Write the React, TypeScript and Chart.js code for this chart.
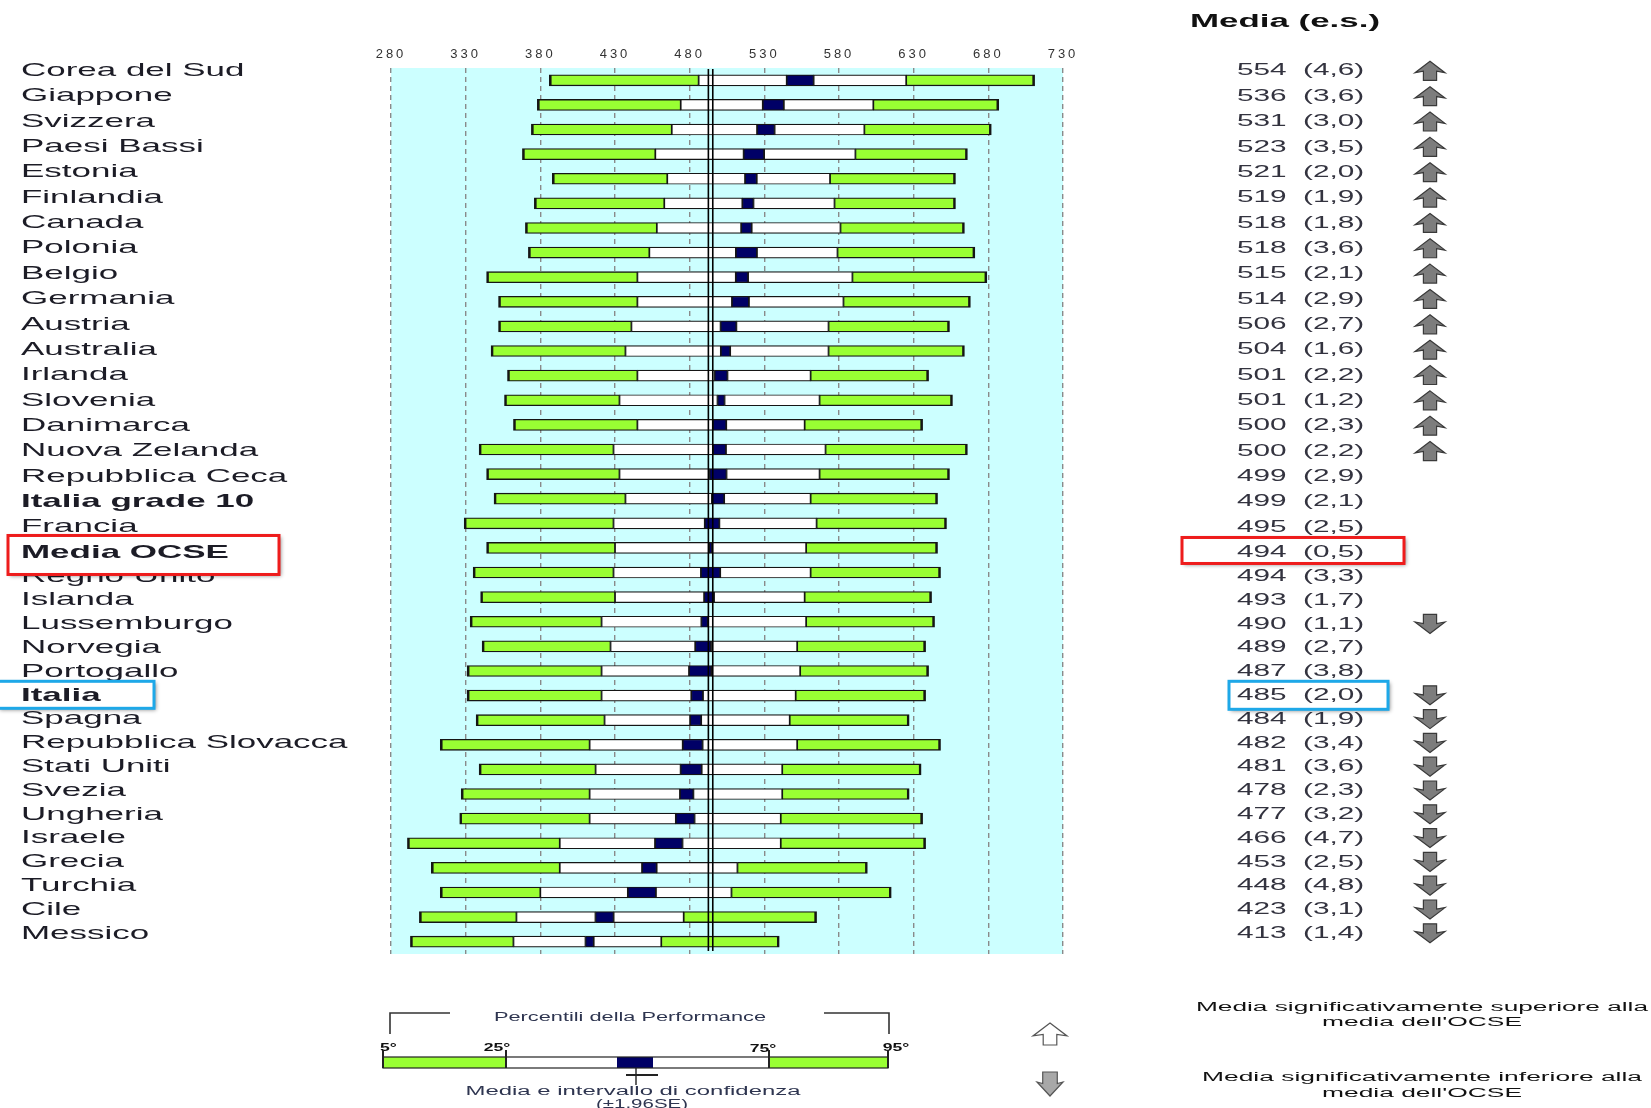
import React, { useEffect, useRef } from 'react';
import { Chart, registerables } from 'chart.js';

Chart.register(...registerables);

// ---------------- data ----------------
const countries = [
  'Corea del Sud', 'Giappone', 'Svizzera', 'Paesi Bassi', 'Estonia', 'Finlandia',
  'Canada', 'Polonia', 'Belgio', 'Germania', 'Austria', 'Australia', 'Irlanda',
  'Slovenia', 'Danimarca', 'Nuova Zelanda', 'Repubblica Ceca', 'Italia grade 10',
  'Francia', 'Media OCSE', 'Regno Unito', 'Islanda', 'Lussemburgo', 'Norvegia',
  'Portogallo', 'Italia', 'Spagna', 'Repubblica Slovacca', 'Stati Uniti', 'Svezia',
  'Ungheria', 'Israele', 'Grecia', 'Turchia', 'Cile', 'Messico',
];
const means = [554, 536, 531, 523, 521, 519, 518, 518, 515, 514, 506, 504, 501, 501, 500, 500, 499, 499, 495, 494, 494, 493, 490, 489, 487, 485, 484, 482, 481, 478, 477, 466, 453, 448, 423, 413];
const stdErr = [4.6, 3.6, 3.0, 3.5, 2.0, 1.9, 1.8, 3.6, 2.1, 2.9, 2.7, 1.6, 2.2, 1.2, 2.3, 2.2, 2.9, 2.1, 2.5, 0.5, 3.3, 1.7, 1.1, 2.7, 3.8, 2.0, 1.9, 3.4, 3.6, 2.3, 3.2, 4.7, 2.5, 4.8, 3.1, 1.4];
const p5 = [386, 378, 374, 368, 388, 376, 370, 372, 344, 352, 352, 347, 358, 356, 362, 339, 344, 349, 329, 344, 335, 340, 333, 341, 331, 331, 337, 313, 339, 327, 326, 291, 307, 313, 299, 293];
const p25 = [486, 474, 468, 457, 465, 463, 458, 453, 445, 445, 441, 437, 445, 433, 445, 429, 433, 437, 429, 430, 429, 430, 421, 427, 421, 421, 423, 413, 417, 413, 413, 393, 393, 380, 364, 362];
const p75 = [625, 603, 597, 591, 574, 577, 581, 579, 589, 583, 573, 573, 561, 567, 557, 571, 567, 561, 565, 558, 561, 557, 558, 552, 554, 551, 547, 552, 542, 542, 541, 541, 512, 508, 476, 461];
const p95 = [711, 687, 682, 666, 658, 658, 664, 671, 679, 668, 654, 664, 640, 656, 636, 666, 654, 646, 652, 646, 648, 642, 644, 638, 640, 638, 627, 648, 635, 627, 636, 638, 599, 615, 565, 540];
// significance vs OECD average: 'up' above, 'down' below, '' not significant
const signif = [
  'up', 'up', 'up', 'up', 'up', 'up', 'up', 'up', 'up', 'up', 'up', 'up', 'up', 'up', 'up', 'up',
  '', '', '', '', '', '', 'down', '', '', 'down', 'down', 'down', 'down', 'down', 'down', 'down',
  'down', 'down', 'down', 'down',
];
const boldRows = ['Italia grade 10', 'Media OCSE', 'Italia'];
const oecdIndex = 19;
const italyIndex = 25;
const xTicksMin = 280;
const xTicksMax = 730;
const xTickStep = 50;

const GREEN = '#99FF33';
const NAVY = '#000066';
const CYAN = '#CCFFFF';
const EDGE = '#151515';

// ---------------- helpers ----------------
function stext(ctx: any, text: string, x: number, y: number, font: string, sx: number, align: string, color: string) {
  ctx.save();
  ctx.font = font;
  ctx.fillStyle = color;
  ctx.textBaseline = 'middle';
  ctx.textAlign = 'left';
  const w = ctx.measureText(text).width * sx;
  const x0 = align === 'left' ? x : align === 'center' ? x - w / 2 : x - w;
  ctx.translate(x0, y);
  ctx.scale(sx, 1);
  ctx.fillText(text, 0, 0);
  ctx.restore();
}
function ftext(ctx: any, text: string, x: number, y: number, font: string, width: number, align: string, color: string) {
  ctx.save();
  ctx.font = font;
  const w = ctx.measureText(text).width;
  ctx.restore();
  stext(ctx, text, x, y, font, width / w, align, color);
}
function arrow(ctx: any, cx: number, cy: number, w: number, h: number, dir: string, fill: string, stroke: string, shaft = 0.22) {
  const s = dir === 'up' ? 1 : -1;
  const hw = w / 2;
  const sw = w * shaft;
  const hb = cy - s * (h / 2 - h * 0.52);
  ctx.save();
  ctx.beginPath();
  ctx.moveTo(cx, cy - (s * h) / 2);
  ctx.lineTo(cx + hw, hb + s * 1.5);
  ctx.lineTo(cx + sw, hb);
  ctx.lineTo(cx + sw, cy + (s * h) / 2);
  ctx.lineTo(cx - sw, cy + (s * h) / 2);
  ctx.lineTo(cx - sw, hb);
  ctx.lineTo(cx - hw, hb + s * 1.5);
  ctx.closePath();
  ctx.fillStyle = fill;
  ctx.fill();
  ctx.lineWidth = 1.2;
  ctx.strokeStyle = stroke;
  ctx.stroke();
  ctx.restore();
}
function textY(chart: any, i: number) {
  const y = chart.scales.y.getPixelForValue(i);
  const off = i <= 19 ? -9.5 + 0.74 * i : 4.6 - 0.8125 * (i - 19);
  return y + off;
}
function box(ctx: any, x0: number, y0: number, x1: number, y1: number, color: string) {
  ctx.save();
  ctx.shadowColor = 'rgba(0,0,0,0.45)';
  ctx.shadowBlur = 4;
  ctx.shadowOffsetX = 2;
  ctx.shadowOffsetY = 2;
  ctx.fillStyle = '#ffffff';
  ctx.fillRect(x0, y0, x1 - x0, y1 - y0);
  ctx.shadowColor = 'rgba(0,0,0,0)';
  ctx.lineWidth = 3;
  ctx.strokeStyle = color;
  ctx.strokeRect(x0, y0, x1 - x0, y1 - y0);
  ctx.restore();
}

const LABEL_SX = 1.84;
const RIGHT_SX = 1.75;
const fmtSe = (v: number) => '(' + v.toFixed(1).replace('.', ',') + ')';

function drawLabel(ctx: any, chart: any, i: number) {
  const bold = boldRows.includes(countries[i]);
  stext(ctx, countries[i], 21, textY(chart, i), (bold ? 'bold ' : '') + '19px "Liberation Sans"', LABEL_SX, 'left', '#1c1c26');
}
function drawRight(ctx: any, chart: any, i: number) {
  const y = textY(chart, i);
  stext(ctx, String(means[i]), 1237, y, '17px "Liberation Sans"', RIGHT_SX, 'left', '#33333f');
  stext(ctx, fmtSe(stdErr[i]), 1303, y, '17px "Liberation Sans"', RIGHT_SX, 'left', '#33333f');
}

const overlayPlugin = {
  id: 'overlay',
  beforeDraw(chart: any) {
    const { ctx, chartArea: a } = chart;
    ctx.save();
    ctx.fillStyle = '#ffffff';
    ctx.fillRect(0, 0, chart.width, chart.height);
    ctx.fillStyle = CYAN;
    ctx.fillRect(a.left, a.top, a.right - a.left, a.bottom - a.top);
    ctx.restore();
    ctx.letterSpacing = '3px';
  },
  beforeDatasetsDraw(chart: any) {
    chart.ctx.letterSpacing = '0px';
  },
  afterDatasetsDraw(chart: any) {
    const { ctx, chartArea: a } = chart;
    const x = chart.scales.x.getPixelForValue(means[oecdIndex]);
    ctx.save();
    ctx.strokeStyle = '#000000';
    ctx.lineWidth = 1.6;
    ctx.beginPath();
    ctx.moveTo(x - 2.2, a.top + 1);
    ctx.lineTo(x - 2.2, a.bottom - 3);
    ctx.moveTo(x + 2.2, a.top + 1);
    ctx.lineTo(x + 2.2, a.bottom - 3);
    ctx.stroke();
    ctx.restore();
  },
  afterDraw(chart: any) {
    const ctx = chart.ctx;
    ctx.letterSpacing = '0px';
    // header
    ftext(ctx, 'Media (e.s.)', 1190, 22, 'bold 18px "Liberation Sans"', 190, 'left', '#111111');
    // rows
    for (let i = 0; i < countries.length; i++) {
      if (i !== oecdIndex && i !== italyIndex) {
        drawLabel(ctx, chart, i);
        drawRight(ctx, chart, i);
      }
      if (signif[i]) {
        arrow(ctx, 1430, textY(chart, i), 30, 19, signif[i], '#7d7d7d', '#3a3a3a');
      }
    }
    // highlight boxes
    const yo = textY(chart, oecdIndex);
    const yi = textY(chart, italyIndex);
    box(ctx, 8, yo - 17, 279, yo + 22, '#EE1C1C');
    box(ctx, 1182, yo - 15, 1404, yo + 11, '#EE1C1C');
    box(ctx, -2, yi - 14, 154, yi + 13, '#1EA8E8');
    box(ctx, 1229, yi - 14, 1388, yi + 14, '#1EA8E8');
    drawLabel(ctx, chart, oecdIndex);
    drawRight(ctx, chart, oecdIndex);
    drawLabel(ctx, chart, italyIndex);
    drawRight(ctx, chart, italyIndex);

    // ---------- legend (schematic) ----------
    ctx.save();
    ctx.strokeStyle = '#333333';
    ctx.lineWidth = 1.6;
    ctx.beginPath();
    ctx.moveTo(390, 1034); ctx.lineTo(390, 1013); ctx.lineTo(450, 1013);
    ctx.moveTo(824, 1013); ctx.lineTo(889, 1013); ctx.lineTo(889, 1034);
    ctx.stroke();
    ctx.restore();
    ftext(ctx, 'Percentili della Performance', 630, 1018, '12px "Liberation Sans"', 272, 'center', '#2e3550');
    stext(ctx, '5°', 380, 1048, 'bold 11px "Liberation Sans"', 1.6, 'left', '#111');
    stext(ctx, '25°', 497, 1048, 'bold 11px "Liberation Sans"', 1.6, 'center', '#111');
    stext(ctx, '75°', 763, 1049, 'bold 11px "Liberation Sans"', 1.6, 'center', '#111');
    stext(ctx, '95°', 896, 1048, 'bold 11px "Liberation Sans"', 1.6, 'center', '#111');
    ctx.save();
    const by = 1057, bh = 11;
    ctx.fillStyle = GREEN; ctx.fillRect(383, by, 506 - 383, bh);
    ctx.fillStyle = '#ffffff'; ctx.fillRect(506, by, 769 - 506, bh);
    ctx.fillStyle = NAVY; ctx.fillRect(617, by, 36, bh);
    ctx.fillStyle = GREEN; ctx.fillRect(769, by, 888 - 769, bh);
    ctx.strokeStyle = '#222'; ctx.lineWidth = 1.2;
    ctx.strokeRect(383, by, 888 - 383, bh);
    ctx.lineWidth = 2;
    ctx.beginPath();
    [383, 506, 769, 888].forEach((x) => { ctx.moveTo(x, 1050); ctx.lineTo(x, by + bh); });
    ctx.moveTo(626, 1075); ctx.lineTo(658, 1075);
    ctx.stroke();
    ctx.lineWidth = 1.4;
    ctx.beginPath();
    ctx.moveTo(636, 1068); ctx.lineTo(636, 1085);
    ctx.stroke();
    ctx.restore();
    ftext(ctx, 'Media e intervallo di confidenza', 633, 1092, '12px "Liberation Sans"', 335, 'center', '#2e3550');
    ftext(ctx, '(±1,96SE)', 642, 1105, '12px "Liberation Sans"', 92, 'center', '#2e3550');

    arrow(ctx, 1050, 1034, 34, 22, 'up', '#ffffff', '#555555', 0.2);
    arrow(ctx, 1050, 1084, 26, 24, 'down', '#a8a8a8', '#555555', 0.28);
    ftext(ctx, 'Media significativamente superiore alla', 1422, 1008, '12px "Liberation Sans"', 452, 'center', '#111');
    ftext(ctx, "media dell'OCSE", 1422, 1023, '12px "Liberation Sans"', 200, 'center', '#111');
    ftext(ctx, 'Media significativamente inferiore alla', 1422, 1078, '12px "Liberation Sans"', 440, 'center', '#111');
    ftext(ctx, "media dell'OCSE", 1422, 1094, '12px "Liberation Sans"', 200, 'center', '#111');
  },
};

export default function App() {
  const ref = useRef<HTMLCanvasElement>(null);
  useEffect(() => {
    const ci = means.map((m, i) => 1.96 * stdErr[i]);
    const common = { borderColor: EDGE, borderSkipped: false, barThickness: 11, grouped: false };
    const chart = new Chart(ref.current as HTMLCanvasElement, {
      type: 'bar',
      data: {
        labels: countries,
        datasets: [
          { ...common, label: '5°-25°', data: countries.map((_, i) => [p5[i], p25[i]]), backgroundColor: GREEN, borderWidth: { left: 2.6, right: 1.2, top: 1.3, bottom: 1.3 } },
          { ...common, label: '25°-IC', data: countries.map((_, i) => [p25[i], means[i] - ci[i]]), backgroundColor: '#ffffff', borderWidth: 1.2 },
          { ...common, label: 'IC', data: countries.map((_, i) => [means[i] - ci[i], means[i] + ci[i]]), backgroundColor: NAVY, borderWidth: 1.2 },
          { ...common, label: 'IC-75°', data: countries.map((_, i) => [means[i] + ci[i], p75[i]]), backgroundColor: '#ffffff', borderWidth: 1.2 },
          { ...common, label: '75°-95°', data: countries.map((_, i) => [p75[i], p95[i]]), backgroundColor: GREEN, borderWidth: { left: 1.2, right: 2.6, top: 1.3, bottom: 1.3 } },
        ] as any,
      },
      options: {
        indexAxis: 'y',
        animation: false,
        responsive: false,
        devicePixelRatio: 1,
        layout: { padding: { left: 391, right: 588, top: 38, bottom: 154 } },
        plugins: { legend: { display: false }, tooltip: { enabled: false } },
        scales: {
          x: {
            type: 'linear',
            position: 'top',
            min: xTicksMin,
            max: xTicksMax,
            afterFit: (s: any) => { s.height = 30; },
            ticks: { stepSize: xTickStep, autoSkip: false, padding: 6, color: '#333333', font: { family: '"Liberation Sans"', size: 13 } },
            grid: { color: '#8a8a8a', lineWidth: 1.4, drawTicks: false },
            border: { display: false, dash: [5, 4] },
          },
          y: { type: 'category', display: false, offset: true },
        },
      } as any,
      plugins: [overlayPlugin],
    });
    return () => chart.destroy();
  }, []);
  return (
    <div style={{ position: 'fixed', left: 0, top: 0, width: 1651, height: 1108, background: '#ffffff' }}>
      <canvas ref={ref} width={1651} height={1108} style={{ display: 'block', width: 1651, height: 1108 }} />
    </div>
  );
}
